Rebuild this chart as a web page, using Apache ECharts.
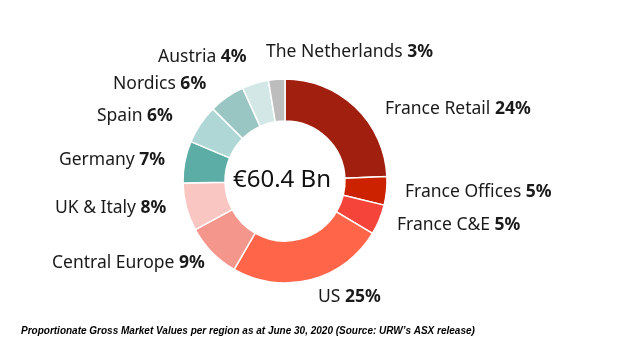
<!DOCTYPE html>
<html><head><meta charset="utf-8">
<script src="https://cdn.jsdelivr.net/npm/echarts@6/dist/echarts.min.js"></script>
<style>html,body{margin:0;padding:0;background:#fff}#c{width:624px;height:359px}</style>
</head><body><div id="c"></div>
<script>
// Data
const categories = ["France Retail","France Offices","France C&E","US","Central Europe","UK & Italy","Germany","Spain","Nordics","Austria","The Netherlands"];
const shares = [24.3, 4.5, 4.8, 24.7, 8.8, 7.6, 6.6, 6.2, 5.7, 4.2, 2.6];
const pctLabels = ["24%","5%","5%","25%","9%","8%","7%","6%","6%","4%","3%"];
const centerText = "€60.4 Bn";
const footnote = "Proportionate Gross Market Values per region as at June 30, 2020 (Source: URW’s ASX release)";

// Styling / layout (not data)
const colors = ["#a11f0f","#cc2200","#f5443a","#fe6549","#f4968b","#f9c6c1","#5bada6","#afd7d5","#99c5c2","#d3e7e7","#bdbdbd"];
const labelPos = [[385,109],[405,192],[397,225],[318,297],[52,263],[55,208],[59,160],[97,116],[113,84],[158,57],[266,52]];
const FONT = "Noto Sans";

const chart = echarts.init(document.getElementById('c'));
const graphics = categories.map((n,i)=>({
  type:'text', x:labelPos[i][0], y:labelPos[i][1],
  style:{ text:'{n|'+n+' }{p|'+pctLabels[i]+'}', verticalAlign:'middle', align:'left', rich:{
    n:{fontFamily:FONT,fontSize:17.5,fill:'#1a1a1a'},
    p:{fontFamily:FONT,fontSize:17.5,fontWeight:'bold',fill:'#1a1a1a'} } }
}));
graphics.push({type:'text', x:21, y:331, style:{text:footnote, verticalAlign:'middle', fontFamily:'Liberation Sans', fontSize:10, fontWeight:'bold', fontStyle:'italic', fill:'#000'}});
graphics.push({type:'text', x:282, y:180, style:{text:centerText, fontFamily:FONT, fontSize:24, fill:'#111', align:'center', verticalAlign:'middle'}});

chart.setOption({
  animation:false,
  graphic: graphics,
  series:[{
    type:'pie', center:[285,181], radius:[60,102], startAngle:90, clockwise:true,
    label:{show:false}, labelLine:{show:false}, silent:true,
    itemStyle:{borderColor:'#fff', borderWidth:1.5},
    data: categories.map((n,i)=>({name:n, value:shares[i], itemStyle:{color:colors[i]}}))
  }]
});
</script></body></html>
